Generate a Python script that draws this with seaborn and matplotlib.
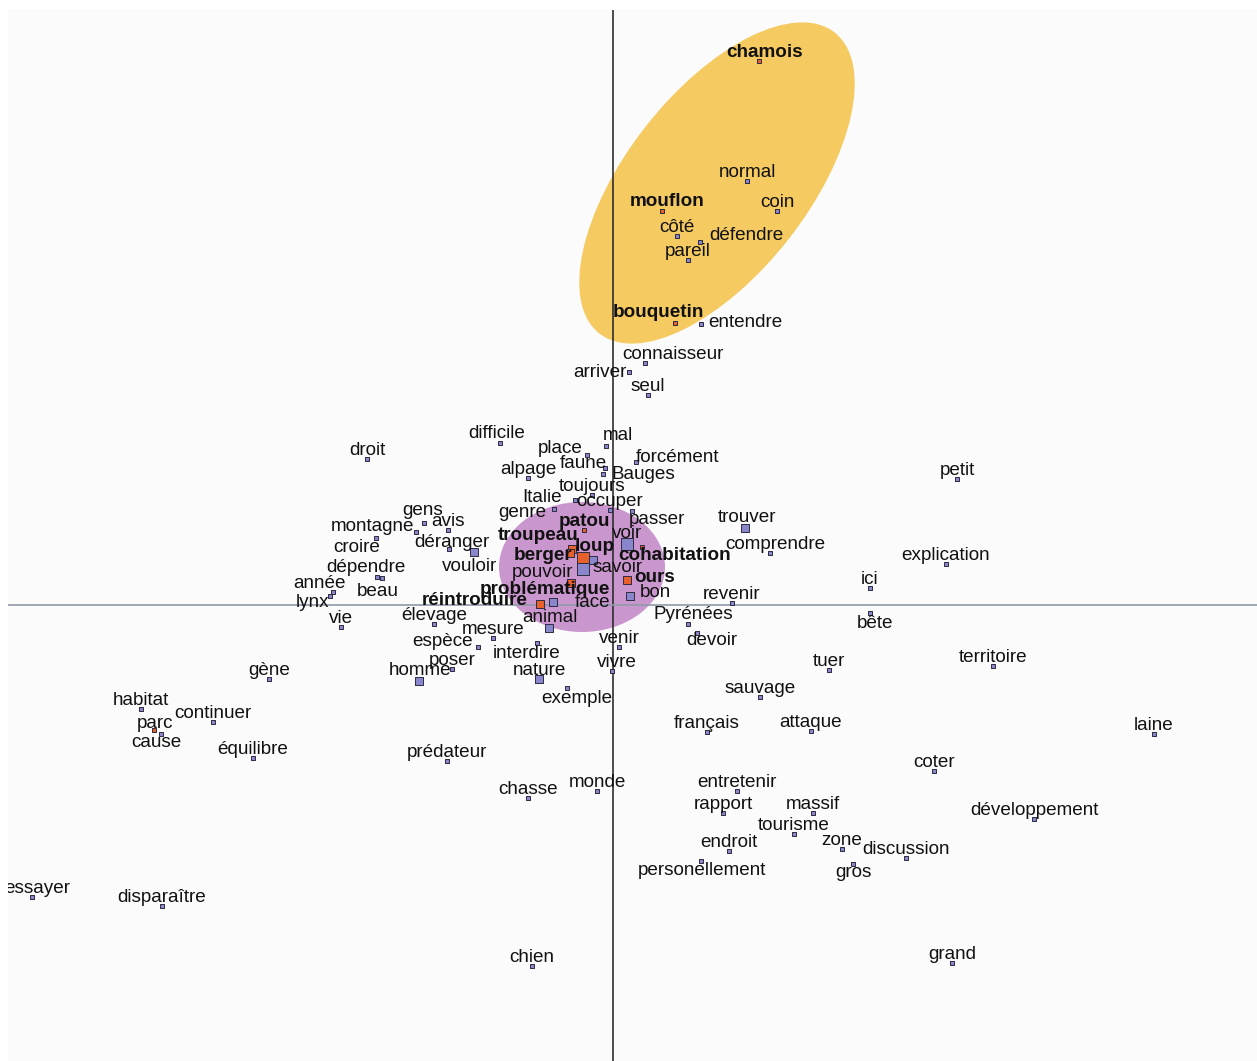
import matplotlib
matplotlib.use("Agg")
import matplotlib.pyplot as plt
from matplotlib.patches import Ellipse
import seaborn as sns
import pandas as pd

# Words of the corpus and their coordinates on factors 1 and 2
mots = [
    "chamois", "normal", "coin", "mouflon", "côté", "défendre", "pareil", "bouquetin",
    "entendre", "connaisseur", "arriver", "seul", "mal", "forcément", "place", "faune",
    "Bauges", "alpage", "difficile", "droit", "toujours", "occuper", "genre", "Italie",
    "patou", "passer", "voir", "trouver", "comprendre", "troupeau", "berger", "loup",
    "cohabitation", "savoir", "pouvoir", "problématique", "ours", "bon", "réintroduire",
    "face", "animal", "vouloir", "déranger", "avis", "gens", "montagne", "croire",
    "dépendre", "beau", "année", "lynx", "vie", "élevage", "mesure", "espèce", "interdire",
    "poser", "homme", "nature", "exemple", "venir", "vivre", "prédateur", "chasse",
    "monde", "gène", "habitat", "continuer", "parc", "cause", "équilibre", "essayer",
    "disparaître", "revenir", "ici", "Pyrénées", "bête", "devoir", "tuer", "territoire",
    "sauvage", "français", "attaque", "coter", "entretenir", "rapport", "massif",
    "tourisme", "endroit", "zone", "discussion", "personellement", "gros",
    "développement", "laine", "petit", "explication", "chien", "grand",
]
facteur1 = [
    1.46, 1.34, 1.64, 0.49, 0.64, 0.87, 0.75, 0.62,
    0.88, 0.32, 0.16, 0.35, -0.07, 0.23, -0.26, -0.08,
    -0.10, -0.85, -1.13, -2.46, -0.21, -0.03, -0.59, -0.38,
    -0.29, 0.19, 0.14, 1.32, 1.57, -0.41, -0.43, -0.30,
    0.29, -0.20, -0.30, -0.42, 0.14, 0.17, -0.73,
    -0.60, -0.64, -1.39, -1.64, -1.65, -1.89, -1.97, -2.37,
    -2.36, -2.31, -2.80, -2.83, -2.72, -1.79, -1.20, -1.35, -0.76,
    -1.61, -1.94, -0.74, -0.46, 0.06, -0.01, -1.66, -0.85,
    -0.16, -3.44, -4.72, -4.00, -4.59, -4.52, -3.60, -5.81,
    -4.51, 1.19, 2.57, 0.75, 2.57, 0.84, 2.16, 3.80,
    1.47, 0.94, 1.98, 3.21, 1.24, 1.10, 2.00,
    1.81, 1.16, 2.29, 2.93, 0.88, 2.40,
    4.21, 5.41, 3.44, 3.33, -0.81, 3.39,
]
facteur2 = [
    5.44, 4.24, 3.94, 3.94, 3.69, 3.63, 3.45, 2.82,
    2.81, 2.42, 2.33, 2.10, 1.59, 1.43, 1.50, 1.37,
    1.31, 1.27, 1.62, 1.46, 1.10, 0.95, 0.96, 1.05,
    0.75, 0.94, 0.61, 0.77, 0.52, 0.56, 0.52, 0.47,
    0.58, 0.45, 0.36, 0.22, 0.25, 0.09, 0.01,
    0.03, -0.23, 0.53, 0.56, 0.75, 0.82, 0.73, 0.67,
    0.28, 0.27, 0.13, 0.09, -0.22, -0.19, -0.33, -0.42, -0.38,
    -0.64, -0.76, -0.74, -0.83, -0.42, -0.66, -1.56, -1.93,
    -1.86, -0.74, -1.04, -1.17, -1.25, -1.29, -1.53, -2.92,
    -3.01, 0.02, 0.17, -0.19, -0.08, -0.28, -0.65, -0.61,
    -0.92, -1.27, -1.26, -1.66, -1.86, -2.08, -2.08,
    -2.29, -2.46, -2.44, -2.53, -2.56, -2.59,
    -2.14, -1.29, 1.26, 0.41, -3.61, -3.58,
]

# Frequency class of each word (1 = rare, 3 = very frequent)
frequents = ["voir", "pouvoir", "loup"]
moyens = ["trouver", "vouloir", "homme", "nature", "animal", "savoir", "bon", "face",
          "berger", "problématique", "ours", "réintroduire", "troupeau"]
poids = [3 if m in frequents else 2 if m in moyens else 1 for m in mots]

# Target words (animals and key themes) versus ordinary forms
cibles = ["chamois", "mouflon", "bouquetin", "patou", "parc", "troupeau", "berger",
          "loup", "cohabitation", "problématique", "ours", "réintroduire"]
mots_gras = ["chamois", "mouflon", "bouquetin", "patou", "troupeau", "berger", "loup",
             "cohabitation", "problématique", "ours", "réintroduire"]
groupe = ["cible" if m in cibles else "forme" for m in mots]

df = pd.DataFrame({"mot": mots, "f1": facteur1, "f2": facteur2,
                   "poids": poids, "groupe": groupe})

# Label placement (pixel offsets of the text baseline from the point)
decalage_defaut = (0, 4)
decalages = {
    "chamois": (6, 4), "mouflon": (5, 5), "défendre": (46, 2), "bouquetin": (-17, 6),
    "entendre": (44, -3), "connaisseur": (28, 4), "arriver": (-29, -5), "mal": (12, 6),
    "forcément": (42, 0), "place": (-27, 2), "faune": (-22, 0), "Bauges": (40, -5),
    "Italie": (-33, -2), "genre": (-32, -8), "passer": (25, -13), "voir": (0, 6),
    "trouver": (2, 6), "comprendre": (5, 4), "troupeau": (-34, 9), "berger": (-27, -7),
    "loup": (12, 7), "cohabitation": (33, -13), "savoir": (25, -12), "pouvoir": (-40, -8),
    "problématique": (-26, -11), "ours": (28, -2), "bon": (25, -1),
    "réintroduire": (-65, -1), "face": (40, -5), "animal": (1, 6), "vouloir": (-4, -19),
    "déranger": (3, 2), "gens": (-1, 8), "montagne": (-43, 1), "croire": (-19, -14),
    "dépendre": (-11, 5), "beau": (-4, -18), "année": (-13, 4), "lynx": (-17, -11),
    "espèce": (-35, 1), "interdire": (-10, -15), "homme": (1, 6), "exemple": (10, -15),
    "vivre": (5, 4), "parc": (1, 2), "cause": (-5, -13), "essayer": (5, 4),
    "Pyrénées": (5, 5), "bête": (5, -15), "devoir": (15, -12),
    "personellement": (1, -14), "gros": (0, -13), "difficile": (-3, 5),
}

# Highlighted zones: (centre f1, centre f2, width, height, angle)
zone_ongules = (1.04, 4.22, 3.82, 1.82, 52)
zone_loup = (-0.31, 0.38, 1.66, 1.30, 0)

W, H = 1257, 1061
fig = plt.figure(figsize=(W / 100, H / 100), dpi=100)
fig.patch.set_facecolor("white")
ax = fig.add_axes([8 / W, 0, (W - 8) / W, (H - 10) / H])
ax.set_facecolor("#fbfbfb")

for (cx, cy, w, h, ang), col in [(zone_ongules, "#f5ca60"), (zone_loup, "#c997cd")]:
    ax.add_patch(Ellipse((cx, cy), w, h, angle=ang, facecolor=col,
                         edgecolor="none", zorder=1))

ax.axvline(0, color="#2e2e2e", lw=1.2, zorder=2)
ax.axhline(0, color="#8f99aa", lw=1.2, zorder=2)

sns.scatterplot(data=df, x="f1", y="f2", hue="groupe", size="poids",
                palette={"forme": "#8a86cc", "cible": "#e8612c"},
                sizes={1: 9, 2: 36, 3: 80}, marker="s",
                edgecolor="#2d2b40", linewidth=0.7, legend=False, ax=ax, zorder=3)

for m, x, y in zip(df["mot"], df["f1"], df["f2"]):
    dx, dy = decalages.get(m, decalage_defaut)
    ax.annotate(m, (x, y), xytext=(dx, dy), textcoords="offset pixels",
                ha="center", va="baseline", fontsize=13.6,
                fontfamily="Liberation Sans",
                fontweight="bold" if m in mots_gras else "normal",
                color="#111111", zorder=4, annotation_clip=False, clip_on=True)

ax.set_xlim(-6.05, 6.44)
ax.set_ylim(-4.56, 5.95)
ax.set_xlabel("")
ax.set_ylabel("")
ax.set_xticks([])
ax.set_yticks([])
for s in ax.spines.values():
    s.set_visible(False)

fig.savefig("out.png", dpi=100)
